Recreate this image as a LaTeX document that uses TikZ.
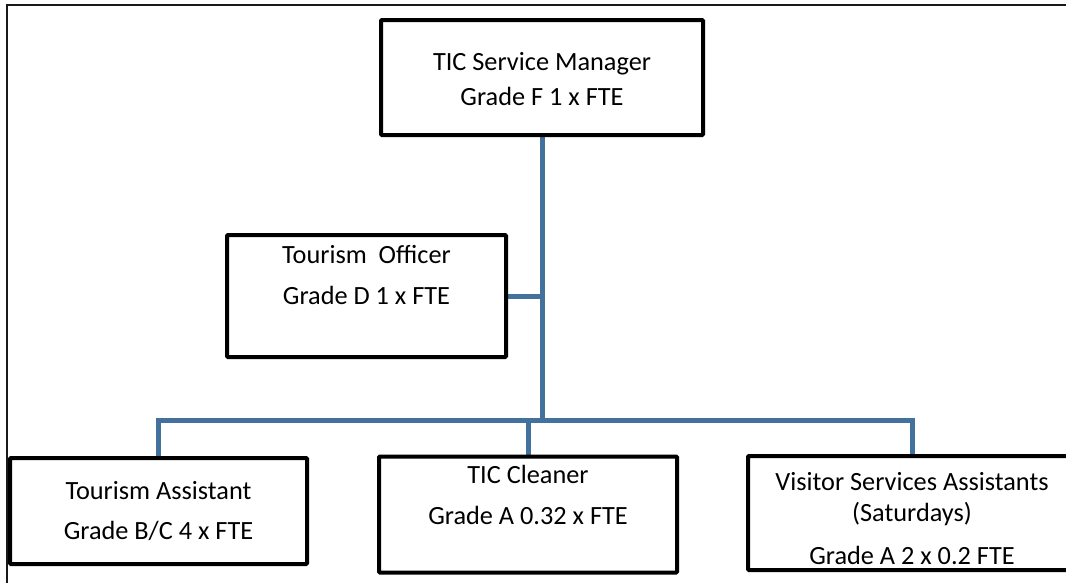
\documentclass[tikz,border=0pt]{standalone}
\usepackage{fontspec}
\setmainfont{Carlito}
\usepackage{xcolor}
\usetikzlibrary{positioning}
\definecolor{linkblue}{RGB}{65,113,156}
\definecolor{pageedge}{RGB}{25,25,25}
\pgfdeclarelayer{background}
\pgfsetlayers{background,main}
\tikzset{
  rolebox/.style={draw=black, fill=white, line width=4pt, rounded corners=1pt,
                  inner sep=0pt, outer sep=0pt},
  roletext/.style={align=center, inner sep=0pt,
                   font=\fontsize{26.3}{31}\selectfont},
  reportline/.style={draw=linkblue, line width=5pt},
}

\begin{document}
\begin{tikzpicture}[x=1pt, y=-1pt]
\useasboundingbox (0,0) rectangle (1066,582);
% page frame, only its top and left edges fall on the page
\draw[pageedge, line width=2pt] (7,600) -- (7,5) -- (1080,5);

% the five posts
\node[rolebox, minimum width=322pt, minimum height=115pt] (manager) at (542,77.5) {};
\node[rolebox, minimum width=279pt, minimum height=122pt] (officer) at (366.5,296) {};
\node[rolebox, minimum width=297pt, minimum height=106pt] (assistant) at (158.5,511) {};
\node[rolebox, minimum width=298pt, minimum height=116pt] (cleaner) at (528,514.5) {};
\node[rolebox, minimum width=328pt, minimum height=114pt] (visitor) at (912,513) {};

\node[roletext, below=28.8pt of manager.north] (manager-txt)
  {\strut TIC Service Manager\\[4pt]Grade F 1 x FTE};
\node[roletext, below=6.8pt of officer.north] (officer-txt)
  {\strut Tourism\ \ Officer\\[10pt]Grade D 1 x FTE};
\node[roletext, below=19.8pt of assistant.north] (assistant-txt)
  {\strut Tourism Assistant\\[9pt]Grade B/C 4 x FTE};
\node[roletext, below=4.8pt of cleaner.north] (cleaner-txt)
  {\strut TIC Cleaner\\[10pt]Grade A 0.32 x FTE};
\node[roletext, below=12.8pt of visitor.north] (visitor-txt)
  {\strut Visitor Services Assistants\\(Saturdays)\\[12pt]Grade A 2 x 0.2 FTE};

% reporting lines sit behind the boxes
\coordinate (bus) at (542,420);
\begin{pgfonlayer}{background}
  \draw[reportline] (manager.south) -- (bus);
  \draw[reportline] (officer.east) -- (officer.east -| bus);
  \draw[reportline] (assistant.north) |- (bus) -| (visitor.north);
  \draw[reportline] (cleaner.north) -- (cleaner.north |- bus);
\end{pgfonlayer}
\end{tikzpicture}
\end{document}
